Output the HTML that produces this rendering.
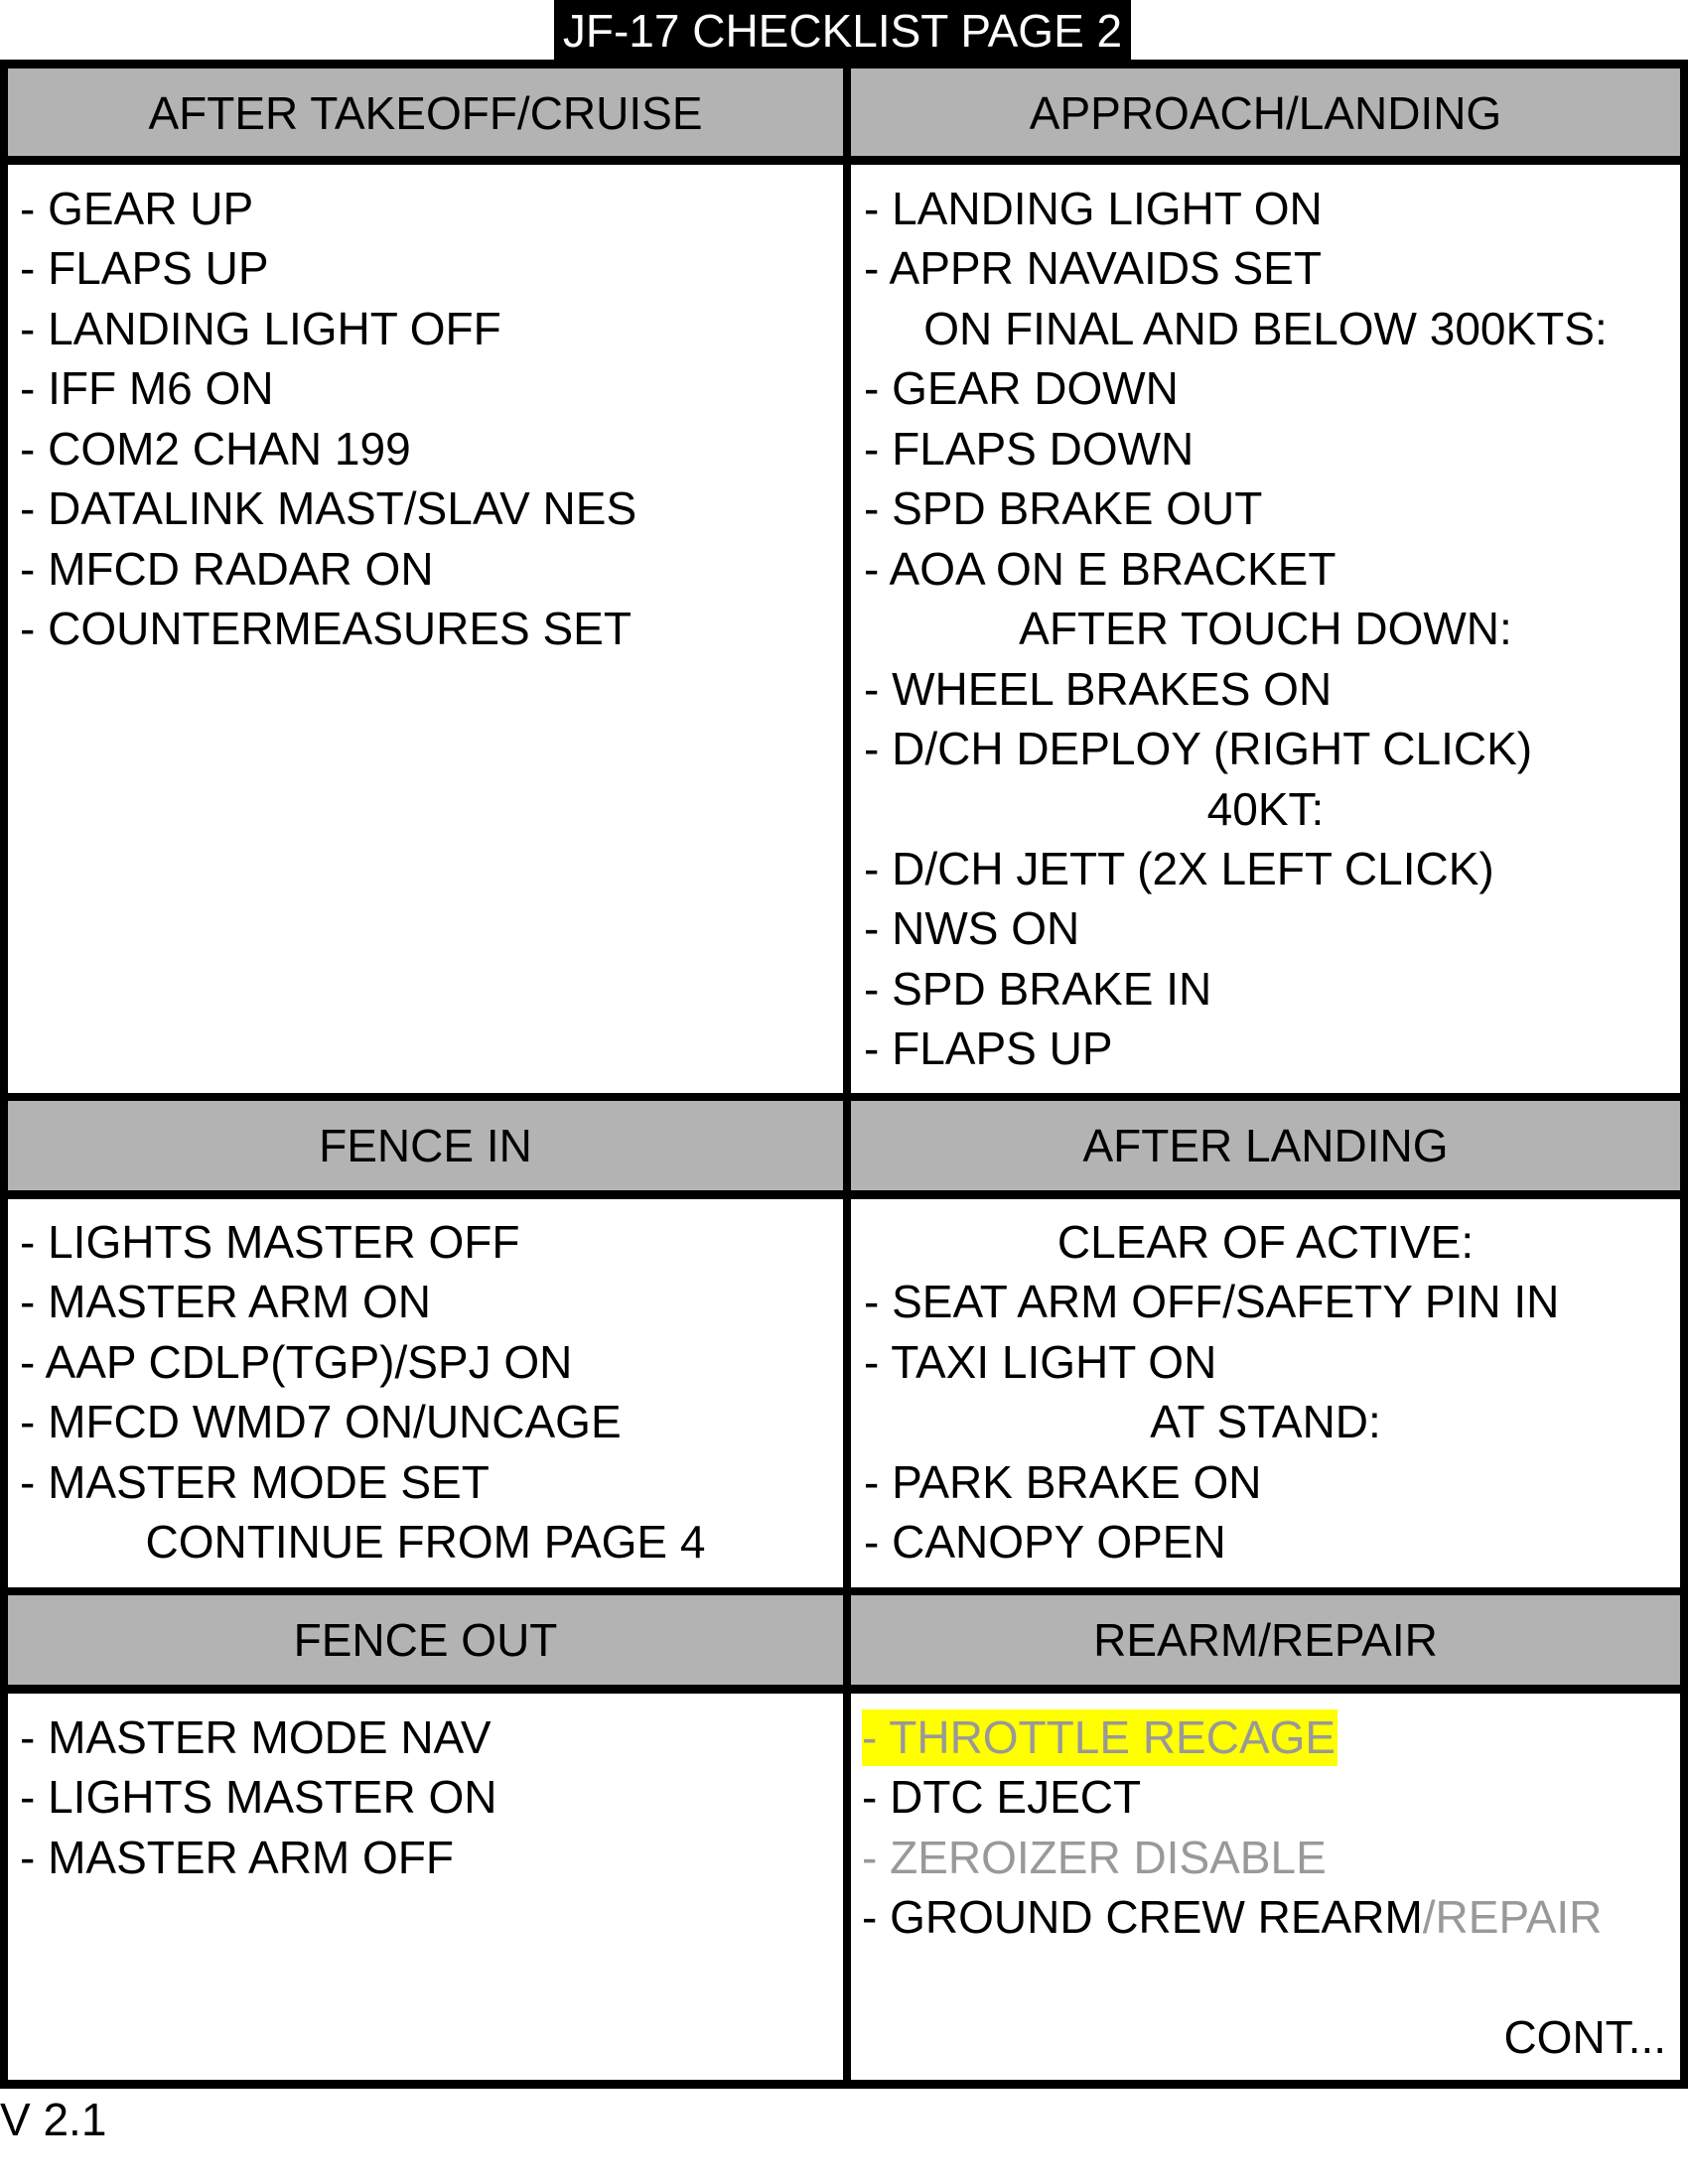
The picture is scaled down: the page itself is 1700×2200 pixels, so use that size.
<!DOCTYPE html>
<html><head><meta charset="utf-8"><style>
*{margin:0;padding:0;box-sizing:border-box}
body{width:1700px;height:2200px;background:#fff;position:relative;overflow:hidden;font-family:"Liberation Sans",sans-serif;font-size:46px;color:#000}
.title{position:absolute;left:558px;top:0;width:581px;height:60px;background:#000;color:#fff;text-align:center;line-height:62px;overflow:hidden;white-space:nowrap}
.bar{position:absolute;background:#000}
.hd{position:absolute;background:#b3b3b3;text-align:center;white-space:nowrap}
.bd{position:absolute;white-space:nowrap;line-height:60.45px}
.c{text-align:center}
.g{color:#999}
.hl{background:#ffff00;display:inline-block;color:#999;padding-right:2px}
</style></head><body>
<div class="title">JF-17 CHECKLIST PAGE 2</div>
<div class="bar" style="left:0;top:60px;width:1700px;height:9px"></div>
<div class="bar" style="left:0;top:157px;width:1700px;height:9px"></div>
<div class="bar" style="left:0;top:1101px;width:1700px;height:8px"></div>
<div class="bar" style="left:0;top:1199px;width:1700px;height:9px"></div>
<div class="bar" style="left:0;top:1599px;width:1700px;height:8px"></div>
<div class="bar" style="left:0;top:1697px;width:1700px;height:9px"></div>
<div class="bar" style="left:0;top:2095px;width:1700px;height:9px"></div>
<div class="bar" style="left:0;top:60px;width:8px;height:2044px"></div>
<div class="bar" style="left:1692px;top:60px;width:8px;height:2044px"></div>
<div class="bar" style="left:849px;top:60px;width:8px;height:2044px"></div>
<div class="hd" style="left:8px;top:69px;width:841px;height:88px;line-height:90px">AFTER TAKEOFF/CRUISE</div>
<div class="hd" style="left:857px;top:69px;width:835px;height:88px;line-height:90px">APPROACH/LANDING</div>
<div class="hd" style="left:8px;top:1109px;width:841px;height:90px;line-height:90px">FENCE IN</div>
<div class="hd" style="left:857px;top:1109px;width:835px;height:90px;line-height:90px">AFTER LANDING</div>
<div class="hd" style="left:8px;top:1607px;width:841px;height:90px;line-height:90px">FENCE OUT</div>
<div class="hd" style="left:857px;top:1607px;width:835px;height:90px;line-height:90px">REARM/REPAIR</div>
<div class="bd" style="left:20px;top:180px;width:829px">
<div>- GEAR UP</div><div>- FLAPS UP</div><div>- LANDING LIGHT OFF</div><div>- IFF M6 ON</div><div>- COM2 CHAN 199</div><div>- DATALINK MAST/SLAV NES</div><div>- MFCD RADAR ON</div><div>- COUNTERMEASURES SET</div>
</div>
<div class="bd" style="left:857px;top:180px;width:835px;padding-left:13px">
<div>- LANDING LIGHT ON</div><div>- APPR NAVAIDS SET</div><div class="c" style="margin-left:-13px">ON FINAL AND BELOW 300KTS:</div><div>- GEAR DOWN</div><div>- FLAPS DOWN</div><div>- SPD BRAKE OUT</div><div>- AOA ON E BRACKET</div><div class="c" style="margin-left:-13px">AFTER TOUCH DOWN:</div><div>- WHEEL BRAKES ON</div><div>- D/CH DEPLOY (RIGHT CLICK)</div><div class="c" style="margin-left:-13px">40KT:</div><div>- D/CH JETT (2X LEFT CLICK)</div><div>- NWS ON</div><div>- SPD BRAKE IN</div><div>- FLAPS UP</div>
</div>
<div class="bd" style="left:8px;top:1221px;width:841px;padding-left:12px">
<div>- LIGHTS MASTER OFF</div><div>- MASTER ARM ON</div><div>- AAP CDLP(TGP)/SPJ ON</div><div>- MFCD WMD7 ON/UNCAGE</div><div>- MASTER MODE SET</div><div class="c" style="margin-left:-12px">CONTINUE FROM PAGE 4</div>
</div>
<div class="bd" style="left:857px;top:1221px;width:835px;padding-left:13px">
<div class="c" style="margin-left:-13px">CLEAR OF ACTIVE:</div><div>- SEAT ARM OFF/SAFETY PIN IN</div><div>- TAXI LIGHT ON</div><div class="c" style="margin-left:-13px">AT STAND:</div><div>- PARK BRAKE ON</div><div>- CANOPY OPEN</div>
</div>
<div class="bd" style="left:20px;top:1720px;width:829px">
<div>- MASTER MODE NAV</div><div>- LIGHTS MASTER ON</div><div>- MASTER ARM OFF</div>
</div>
<div class="bd" style="left:857px;top:1720px;width:835px;padding-left:11px">
<div><span class="hl" style="line-height:57px;vertical-align:top;margin-top:2px">- THROTTLE RECAGE</span></div><div>- DTC EJECT</div><div class="g">- ZEROIZER DISABLE</div><div>- GROUND CREW REARM<span class="g">/REPAIR</span></div>
</div>
<div style="position:absolute;right:22px;top:2022px;line-height:60px">CONT...</div>
<div style="position:absolute;left:0;top:2105px;line-height:60px">V 2.1</div>
</body></html>
